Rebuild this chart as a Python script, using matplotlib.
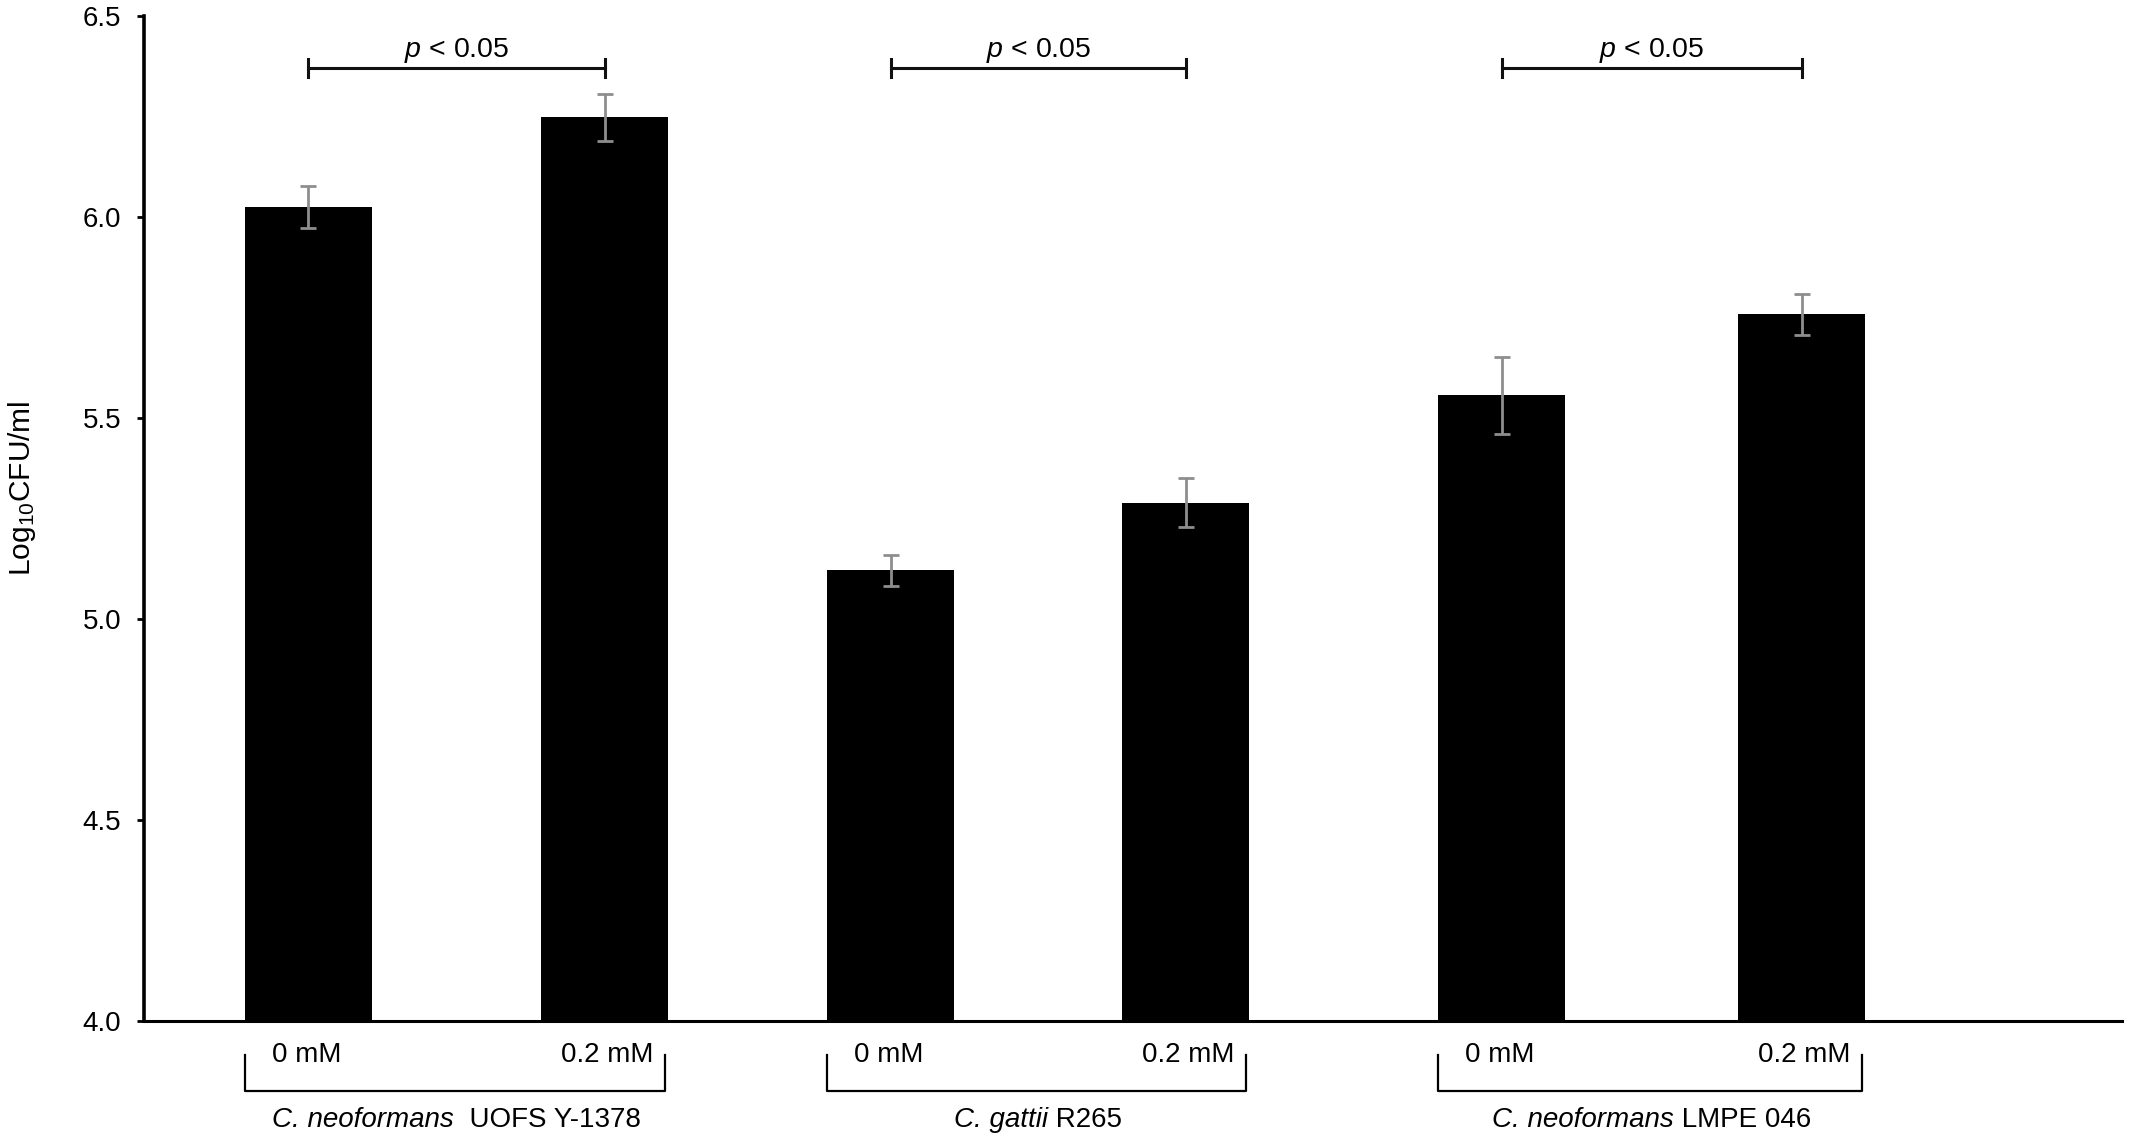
import numpy as np
import matplotlib.pyplot as plt

# data
conditions = ["0 mM", "0.2 mM"]
strains_italic = ["C. neoformans", "C. gattii", "C. neoformans"]
strains_rest = ["  UOFS Y-1378", " R265", " LMPE 046"]
means = [6.025, 6.248, 5.121, 5.289, 5.556, 5.758]
errors = [0.052, 0.059, 0.038, 0.061, 0.096, 0.051]
p_text = "< 0.05"
y_ticks = [4.0, 4.5, 5.0, 5.5, 6.0, 6.5]

plt.rcParams['font.family'] = ['Liberation Sans', 'DejaVu Sans']
plt.rcParams['mathtext.fontset'] = 'custom'
plt.rcParams['mathtext.rm'] = 'Liberation Sans'
plt.rcParams['mathtext.it'] = 'Liberation Sans:italic'
plt.rcParams['mathtext.default'] = 'regular'

fig = plt.figure(figsize=(21.33, 11.4), dpi=100)
ax = fig.add_axes([0.0675, 0.1044, 0.9273, 0.8816])

# bar centres (x units = 100 px)
x = np.array([1.645, 4.61, 7.47, 10.42, 13.58, 16.58])
w = 1.27
ax.bar(x, np.array(means) - 4.0, bottom=4.0, width=w, color='black', zorder=2)
ax.errorbar(x, means, yerr=errors, fmt='none', ecolor='#8e8e8e',
            elinewidth=2, capsize=6, capthick=2, zorder=3)

ax.set_xlim(0, 19.78)
ax.set_ylim(4.0, 6.5)
ax.set_yticks(y_ticks)
ax.set_yticklabels([f"{v:.1f}" for v in y_ticks], fontsize=20)
ax.tick_params(axis='y', length=5, width=2, pad=11.5)
ax.set_xticks([])
for s in ['top', 'right']:
    ax.spines[s].set_visible(False)
ax.spines['left'].set_linewidth(2.6)
ax.spines['bottom'].set_linewidth(2.2)

fig.text(0.0103, 0.5715, r"Log$_{10}$CFU/ml", rotation=90, fontsize=21.5,
         ha='center', va='center')

# significance brackets
for g in range(3):
    x1, x2 = x[2 * g], x[2 * g + 1]
    yb = 6.37
    ax.plot([x1, x2], [yb, yb], color='#111111', lw=2.2, clip_on=False)
    for xx in (x1, x2):
        ax.plot([xx, xx], [yb - 0.022, yb + 0.022], color='#111111', lw=2.2, clip_on=False)
    ax.text((x1 + x2) / 2, 6.398, "$\\it{p}$ " + p_text, fontsize=20.5,
            ha='center', va='baseline')

# group labels under the axis
tr = ax.get_xaxis_transform()
fig.canvas.draw()
r = fig.canvas.get_renderer()
for g in range(3):
    left = x[2 * g] - w / 2
    right = x[2 * g + 1] + w / 2
    ax.text(left + 0.267, -0.0411, conditions[0], transform=tr, ha='left', va='baseline',
            fontsize=20)
    ax.text(right - 0.15, -0.0411, conditions[1], transform=tr, ha='right', va='baseline',
            fontsize=20)
    ax.plot([left, left, right - 0.035, right - 0.035], [-0.0338, -0.0697, -0.0697, -0.0338],
            transform=tr, color='black', lw=1.6, clip_on=False)
    mid = (left + right) / 2
    t1 = ax.text(mid, -0.1052, strains_italic[g], transform=tr, ha='right',
                 va='baseline', style='italic', fontsize=20)
    t2 = ax.text(mid, -0.1052, strains_rest[g], transform=tr, ha='left', va='baseline',
                 fontsize=20)
    # centre the two-part label under the bracket
    b1 = t1.get_window_extent(r)
    b2 = t2.get_window_extent(r)
    shift_px = (b2.width - b1.width) / 2
    inv = ax.transData.inverted()
    dx = inv.transform((shift_px, 0))[0] - inv.transform((0, 0))[0]
    t1.set_x(mid - dx)
    t2.set_x(mid - dx)

fig.savefig("out.png", dpi=100)
